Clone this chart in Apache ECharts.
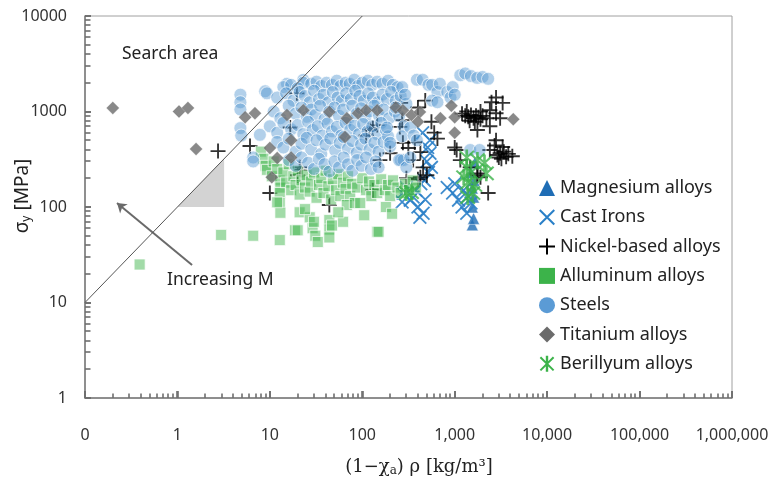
<!DOCTYPE html>
<html><head><meta charset="utf-8">
<script src="https://cdn.jsdelivr.net/npm/echarts@6/dist/echarts.min.js"></script>
<style>html,body{margin:0;padding:0;background:#fff}#c{width:774px;height:480px}</style>
</head><body><div id="c"></div>
<script>
// ---- tick labels ----
const xTicks = [0.1, 1, 10, 100, 1000, 10000, 100000, 1000000];
const xTickLabels = ['0', '1', '10', '100', '1,000', '10,000', '100,000', '1,000,000'];
const yTicks = [1, 10, 100, 1000, 10000];
const yTickLabels = ['1', '10', '100', '1000', '10000'];

// ---- guide shapes (data space) ----
const searchLine = [[0.1, 10], [100, 10000]];
const slopeTriangle = [[1, 100], [3.2, 100], [3.2, 320]];
const arrowFrom = [1.44, 24.7];
const arrowTo = [0.222, 110];

// ---- series (x = (1-chi_a) rho, y = sigma_y) ----
const magnesium = [[1550,65],[1600,76],[1550,100],[1600,127],[1550,158],[1620,190],[1500,230],[1650,290]];

const castIrons = [[275,140],[330,118],[400,100],[455,86],[355,127],[270,113],[420,78],[300,160],[380,150],[480,120],
 [830,160],[950,140],[1100,118],[1200,100],[1350,86],[1250,150],[1400,130],[1500,110],[1000,175],
 [540,500],[510,420],[540,365],[500,300],[560,260],[450,600],[520,230],[470,190],[430,175]];

const nickel = [[2.75,385],[6.1,435],[10,140],[21,260],[22,245],[20,215],[44,105],[130,150],[130,670],[110,560],[120,640],
 [275,470],[315,415],[370,475],[425,375],[355,310],[455,260],[500,215],[425,205],[155,310],[200,365],[255,690],[270,810],
 [16.6,680],[19.6,1550],[145,720],[260,1230],[400,1100],[480,1300],[600,600],[650,520],[560,780],[300,200],[400,195],
 [1200,950],[1300,900],[1400,880],[1500,920],[1600,850],[1700,900],[1800,870],[1900,830],[2000,900],[2200,850],[1450,800],[1650,780],[1350,1000],[1900,1000],
 [2800,1400],[3300,1230],[2400,1030],[2800,960],[3100,850],[2500,1250],[2400,700],[1760,640],
 [2800,500],[3300,425],[2400,395],[3100,365],[3600,335],[2900,350],[3400,380],[3800,360],[4200,340],[3000,330],[2700,440],[3200,320],
 [1050,395],[1150,310],[1900,205],[1760,215],[2300,140],[1000,420],[1470,260],[1760,225]];

const aluminum = [[0.39,25],[2.97,51],[6.6,50],
 [8,380],[8.5,320],[9,270],[9.3,245],[10.5,210],[11,300],[12,250],[12.8,190],[13,160],[14,230],[15,180],[16,280],[17,150],[18,210],[19,170],[20,240],
 [21,135],[22,190],[24,160],[25,215],[27,145],[28,185],[30,230],[32,125],[34,170],[36,200],[38,140],[40,240],[43,165],[46,120],[48,195],[52,150],
 [55,220],[58,130],[62,180],[66,155],[70,210],[74,130],[78,175],[88,160],[100,200],[110,150],[118,185],[125,130],[135,170],[145,140],
 [160,195],[175,150],[190,170],[200,130],[215,190],[240,160],[260,140],[290,175],[320,150],[350,190],[380,160],
 [12.8,140],[12.8,110],[13,87],[12,112],[12.8,45],[18.7,57],[20,57],[21,88],[27,78],[29,60],[31,50],[33,43],[30,70],
 [44,73],[44,58],[44,48],[47,64],[62,70],[68,105],[83,110],[95,110],[105,82],[145,55],[150,55],[24,95],[55,88],[180,100],[210,85]];

const steels = [[4.8,1500],[4.8,1250],[4.8,1050],[4.8,670],[4.9,560],[6.6,330],[6.6,300],[7.8,570],[8.9,1630],[9.3,1550],[15.3,1950],[23,2140],[23,2000],
 [14,1800],[17,1900],[20,1750],[28,1950],[32,2050],[36,1850],[41,2000],[47,1900],[53,2100],[58,1850],[66,2000],[73,1950],[82,2150],[90,1850],[100,2000],[115,2100],[128,1900],[145,2050],[165,1950],[190,2100],[215,1900],[240,1800],
 [12,1400],[15,1550],[18,1300],[21,1600],[24,1450],[27,1250],[30,1650],[34,1350],[38,1500],[43,1250],[48,1600],[54,1400],[60,1300],[67,1550],[75,1350],[84,1650],[93,1450],[104,1300],[116,1550],[130,1400],[147,1250],[165,1500],[185,1350],[205,1600],[230,1300],[260,1450],
 [11,1000],[13,850],[16,1150],[19,950],[22,1100],[25,880],[28,1050],[31,920],[35,1150],[39,830],[44,1000],[50,1100],[56,900],[62,1050],[70,820],[78,1150],[87,950],[97,1080],[108,870],[120,1000],[135,1150],[152,900],[170,1050],[195,850],[225,1000],[250,900],
 [10,700],[12,600],[14,760],[17,650],[20,720],[23,580],[26,780],[29,640],[33,700],[37,560],[42,750],[47,620],[53,690],[59,560],[66,760],[74,640],[82,710],[92,580],[102,740],[114,620],[128,700],[145,580],[160,760],[180,640],
 [12,480],[14,420],[16,520],[19,380],[22,460],[25,530],[28,400],[32,500],[36,360],[40,450],[45,520],[51,390],[57,470],[63,540],[70,410],[78,490],[87,370],[97,450],[108,520],[120,400],[135,470],[150,380],[170,480],[190,550],[200,430],
 [16,310],[19,270],[22,330],[26,290],[30,250],[34,320],[39,280],[44,235],[50,300],[56,260],[63,330],[70,280],[78,240],[88,310],[98,270],[110,330],[124,250],[140,300],[150,260],[260,310],[280,310],
 [270,1800],[300,1200],[280,700],[270,550],[200,470],[185,680],[230,1100],[290,1500],[330,680],[360,560],[390,500],[250,310],[300,260],[330,330],
 [390,2150],[450,2150],[520,1900],[570,1900],[650,1600],[690,1950],[830,1600],[570,1300],[650,1250],[900,1400],[950,1800],[1000,1500],
 [1150,2400],[1300,2500],[1500,2350],[1750,2250],[2000,2300],[2300,2200],[1470,395],[1860,395]];

const titanium = [[0.2,1090],[1.04,1000],[1.3,1090],[1.59,405],[5.4,870],[6.9,960],[15.3,920],[23,1030],[44,990],[68,850],[90,960],[110,1030],
 [10,415],[12,325],[17,330],[10.5,205],[17,500],[65,540],[145,1030],[230,1100],[275,1030],[340,920],[420,990],[400,780],[700,850],[920,1150],[1000,870],[1000,600],[4300,830]];

const beryllium = [[1350,330],[2200,225],[1350,260],[1250,205],[1380,180],[1570,140],[1380,127],[1760,310],[2100,290],[1500,230],[1650,170],[300,140],[340,143]];

// ---- symbols ----
const plusPath = 'path://M-1,-8H1V-1H8V1H1V8H-1V1H-8V-1H-1Z';
const crossPath = 'path://M-6.3,-7.7L7.7,6.3L6.3,7.7L-7.7,-6.3ZM7.7,-6.3L-6.3,7.7L-7.7,6.3L6.3,-7.7Z';
const starPath = 'path://M-1.2,-8H1.2V8H-1.2ZM-5.9,-7.3L7.3,5.9L5.9,7.3L-7.3,-5.9ZM7.3,-5.9L-5.9,7.3L-7.3,5.9L5.9,-7.3Z';

const FONT = 'Noto Sans';
const names = ['Magnesium alloys','Cast Irons','Nickel-based alloys','Alluminum alloys','Steels','Titanium alloys','Berillyum alloys'];
const colors = ['#1f6db5','#2a80c8','#000000','#3cb34a','#5b9bd5','#6b6b6b','#3cb34a'];

// ---- axis tick marks (data positions on the log axes) ----
const tickMarks = [];
xTicks.forEach(v => tickMarks.push([v, 1, 7, 0]));
yTicks.forEach(v => tickMarks.push([0.1, v, 6, 1]));
for (let e = -1; e < 6; e++) for (let k = 2; k <= 9; k++) tickMarks.push([+(k * Math.pow(10, e)).toPrecision(6), 1, 4.5, 0]);
for (let e = 0; e < 4; e++) for (let k = 2; k <= 9; k++) tickMarks.push([0.1, +(k * Math.pow(10, e)).toPrecision(6), 5.5, 1]);

function lookup(ticks, labels, v) {
  const i = ticks.findIndex(t => Math.abs(Math.log10(t) - Math.log10(v)) < 1e-6);
  return i >= 0 ? labels[i] : '';
}

const chart = echarts.init(document.getElementById('c'));
const axisColor = '#7a7a7a';

chart.setOption({
  animation: false,
  backgroundColor: '#fff',
  grid: {left: 85, right: 42, top: 16, bottom: 82, show: true, borderColor: '#a0a0a0', borderWidth: 1,
         containLabel: false, outerBoundsMode: 'none'},
  xAxis: {type: 'log', min: 0.1, max: 1000000, logBase: 10,
     axisLine: {show: true, onZero: false, lineStyle: {color: axisColor, width: 1.5}},
     axisTick: {show: true, inside: true, length: 7, lineStyle: {color: '#6e6e6e', width: 1.6}},
     axisLabel: {margin: 29, fontSize: 16, color: '#333', fontFamily: FONT,
       formatter: v => lookup(xTicks, xTickLabels, v)},
     splitLine: {show: false}},
  yAxis: {type: 'log', min: 1, max: 10000, logBase: 10,
     axisLine: {show: true, onZero: false, lineStyle: {color: axisColor, width: 1.5}},
     axisTick: {show: true, inside: true, length: 6, lineStyle: {color: '#6e6e6e', width: 1.6}},
     axisLabel: {margin: 18, fontSize: 16, color: '#333', fontFamily: FONT,
       formatter: v => lookup(yTicks, yTickLabels, v)},
     splitLine: {show: false}},
  legend: {
    orient: 'vertical', left: 534, top: 174, itemWidth: 16, itemHeight: 16, itemGap: 11.3,
    textStyle: {fontSize: 18, color: '#222', fontFamily: FONT, lineHeight: 18},
    selectedMode: false,
    data: [
      {name: names[0], icon: 'triangle', itemStyle: {color: colors[0], opacity: 1, borderWidth: 0}},
      {name: names[1], icon: crossPath, itemStyle: {color: colors[1], opacity: 1, borderWidth: 0}},
      {name: names[2], icon: plusPath, itemStyle: {color: colors[2], opacity: 1, borderWidth: 0}},
      {name: names[3], icon: 'rect', itemStyle: {color: colors[3], opacity: 1, borderWidth: 0}},
      {name: names[4], icon: 'circle', itemStyle: {color: colors[4], opacity: 1, borderWidth: 0}},
      {name: names[5], icon: 'diamond', itemStyle: {color: colors[5], opacity: 1, borderWidth: 0}},
      {name: names[6], icon: starPath, itemStyle: {color: colors[6], opacity: 1, borderWidth: 0}}
    ]
  },
  series: [
    {type: 'custom', coordinateSystem: 'cartesian2d', silent: true, z: 1,
     data: [slopeTriangle[0]],
     renderItem: (params, api) => ({type: 'polygon', shape: {points: slopeTriangle.map(p => api.coord(p))}, style: {fill: '#d3d3d3'}})},
    {name: names[0], type: 'scatter', data: magnesium, symbol: 'triangle', symbolSize: 12, z: 2,
     itemStyle: {color: colors[0], opacity: 0.8, borderColor: '#fff', borderWidth: 0.6}},
    {name: names[1], type: 'scatter', data: castIrons, symbol: crossPath, symbolSize: 14, z: 2,
     itemStyle: {color: colors[1], opacity: 0.9}},
    {name: names[2], type: 'scatter', data: nickel, symbol: plusPath, symbolSize: 15, z: 2,
     itemStyle: {color: colors[2]}},
    {name: names[3], type: 'scatter', data: aluminum, symbol: 'rect', symbolSize: 11, z: 2,
     itemStyle: {color: 'rgba(60,179,74,0.6)', borderColor: 'rgba(255,255,255,0.9)', borderWidth: 1}},
    {name: names[4], type: 'scatter', data: steels, symbol: 'circle', symbolSize: 13, z: 2,
     itemStyle: {color: 'rgba(80,148,208,0.55)', borderColor: 'rgba(255,255,255,0.9)', borderWidth: 1}},
    {name: names[5], type: 'scatter', data: titanium, symbol: 'diamond', symbolSize: 13, z: 2,
     itemStyle: {color: colors[5], borderColor: 'rgba(255,255,255,0.6)', borderWidth: 0.5}},
    {name: names[6], type: 'scatter', data: beryllium, symbol: starPath, symbolSize: 16, z: 2,
     itemStyle: {color: colors[6]}},
    {type: 'line', data: searchLine, symbol: 'none', silent: true, z: 3,
     lineStyle: {color: '#555', width: 1}},
    {type: 'lines', coordinateSystem: 'cartesian2d', silent: true, z: 3,
     data: [{coords: [arrowFrom, arrowTo]}],
     symbol: ['none', 'arrow'], symbolSize: 9,
     lineStyle: {color: '#6a6a6a', width: 2, opacity: 1}},
    {type: 'custom', coordinateSystem: 'cartesian2d', silent: true, z: 6, clip: false,
     data: tickMarks, encode: {x: 0, y: 1},
     renderItem: (params, api) => {
       const p = api.coord([api.value(0), api.value(1)]);
       const len = api.value(2), dir = api.value(3);
       if (dir === 0) {
         const x = Math.round(p[0]);
         return {type: 'line', shape: {x1: x, y1: p[1], x2: x, y2: p[1] - len}, style: {stroke: '#6e6e6e', lineWidth: 1.6}};
       }
       const y = Math.round(p[1]);
       return {type: 'line', shape: {x1: p[0], y1: y, x2: p[0] + len, y2: y}, style: {stroke: '#6e6e6e', lineWidth: 1.6}};
     }}
  ],
  graphic: [
    {type: 'text', left: 122, top: 45, style: {text: 'Search area', fontSize: 17.5, fill: '#222', fontFamily: FONT}},
    {type: 'text', left: 167, top: 271, style: {text: 'Increasing M', fontSize: 17.5, fill: '#222', fontFamily: FONT}},
    {type: 'text', left: 204, top: 178, style: {text: '1', fontSize: 17.5, fill: '#222', fontFamily: FONT}},
    {type: 'text', x: 23, y: 196, rotation: Math.PI / 2,
     style: {text: 'σ{sub|y} [MPa]', fontSize: 19, fill: '#222', fontFamily: FONT, align: 'center', verticalAlign: 'middle',
       rich: {sub: {fontSize: 12, fontFamily: FONT, fill: '#222', padding: [8, 0, 0, 0]}}}},
    {type: 'text', x: 419, y: 467, style: {text: '(1−χ{sub|a}) ρ [kg/m³]', fontSize: 18, fill: '#222',
      fontFamily: 'DejaVu Serif', align: 'center', verticalAlign: 'middle',
      rich: {sub: {fontSize: 12, fontFamily: 'DejaVu Serif', fill: '#222', padding: [7, 0, 0, 0]}}}}
  ]
});
</script></body></html>
